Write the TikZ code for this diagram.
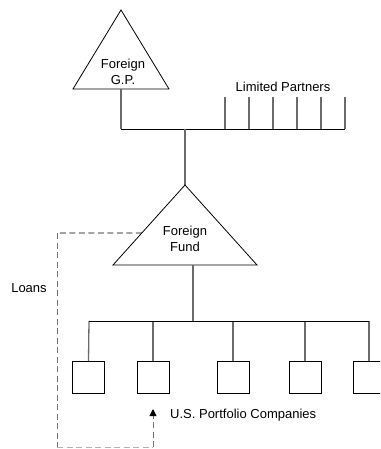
\documentclass[tikz,border=0pt]{standalone}
\usepackage{fontspec}
\setmainfont{Liberation Sans}
\usetikzlibrary{arrows.meta,calc}
\begin{document}
\begin{tikzpicture}[x=1pt,y=-1pt,
  hline/.style={draw=black,line width=0.8pt},
  vline/.style={draw=black!58,line width=1.3pt},
  tri/.style={draw=black,line width=0.8pt,fill=white,line join=miter},
  company/.style={draw=black,line width=0.8pt,fill=white,minimum width=32pt,minimum height=32pt,inner sep=0pt,outer sep=0pt},
  lbl/.style={font=\fontsize{13}{16.5}\selectfont,align=center,inner sep=0pt},
  loan/.style={line width=0.9pt,dash pattern=on 6pt off 3.5pt}]
\useasboundingbox (0,0) rectangle (380,449);
\clip (0,0) rectangle (380,449);

% general partner triangle
\coordinate (gpTop) at (121,10);
\coordinate (gpL) at (73,89);
\coordinate (gpR) at (169,89);
\coordinate (gpBase) at (121,89);
\draw[tri] (gpTop) -- (gpL) -- (gpR) -- cycle;
\node[lbl] (gp) at (123,72) {Foreign\\G.P.};

% partnership bus and limited partners
\coordinate (busL) at (121,129);
\coordinate (busR) at (345,129);
\coordinate (busMid) at (185,129);
\draw[vline] (gpBase) -- (busL);
\foreach \x [count=\i] in {225,249,273,297,321,345} {
  \coordinate (lp\i) at (\x,97);
  \coordinate (lpb\i) at (\x,129);
  \draw[vline] (lp\i) -- (lpb\i);
}
\draw[hline] (busL) -- (busR);
\node[lbl] (lps) at (283,87) {Limited Partners};

% foreign fund triangle
\coordinate (ffTop) at (185,185);
\coordinate (ffL) at (113,265);
\coordinate (ffR) at (257,265);
\coordinate (ffBase) at (193,265);
\draw[vline] (busMid) -- (ffTop);
\draw[tri] (ffTop) -- (ffL) -- (ffR) -- cycle;
\node[lbl] (ff) at (185,239) {Foreign\\Fund};

% portfolio companies
\coordinate (pcBus) at (193,321);
\coordinate (pcL) at (89,321);
\coordinate (pcR) at (369,321);
\draw[vline] (ffBase) -- (pcBus);
\foreach \x/\c [count=\i] in {89/88.5,153/153,233/233,305/305,369/369} {
  \node[company] (pc\i) at (\c,377) {};
  \coordinate (drop\i) at (\x,321);
  \draw[vline] (drop\i) -- (pc\i.north);
}
\node[company,anchor=north west] (pc5) at (353,361) {};
\draw[hline] (pcL) -- (pcR);
\node[lbl,anchor=west] (usp) at (170,415) {U.S. Portfolio Companies};

% loans loop
\coordinate (ln1) at ($(ffTop)!0.6!(ffL)$);
\coordinate (ln2) at (57,233);
\coordinate (ln3) at (57,447);
\coordinate (ln4) at (153,447);
\coordinate (ln5) at (153,409);
\draw[loan,draw=black] (ln1) -- (ln2);
\draw[loan,draw=black!55] (ln2) -- (ln3);
\draw[loan,draw=black!30] (ln3) -- (ln4);
\draw[loan,draw=black!55,-{Triangle[width=7pt,length=7pt,fill=black,color=black]}] (ln4) -- (ln5);
\node[lbl] (loans) at (29,288) {Loans};
\end{tikzpicture}
\end{document}
